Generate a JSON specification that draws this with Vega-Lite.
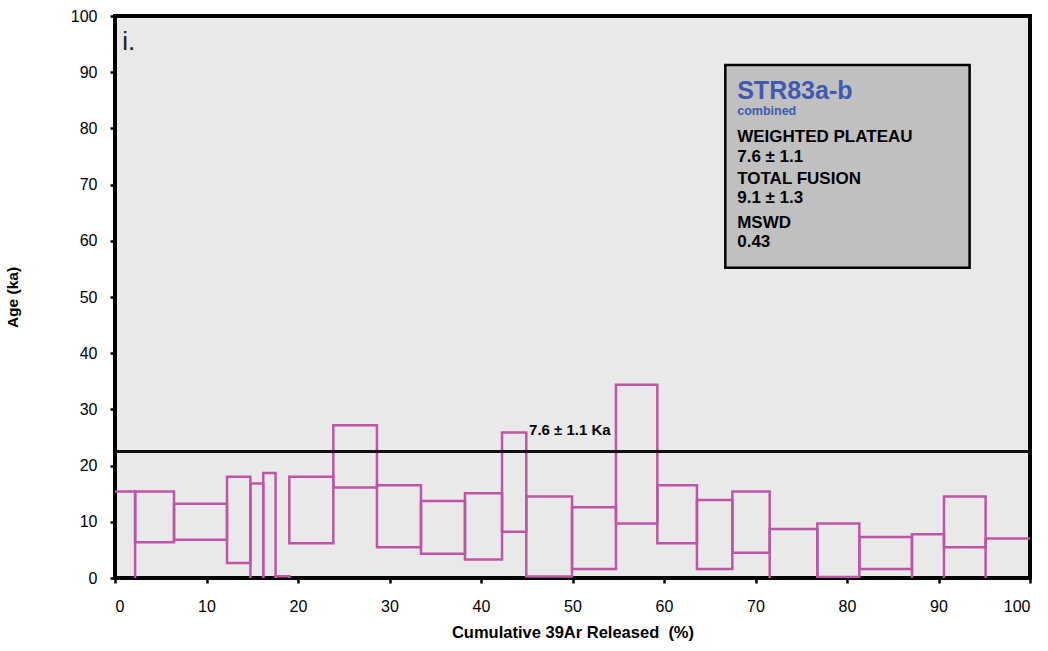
{
  "$schema": "https://vega.github.io/schema/vega-lite/v6.json",
  "width": 915,
  "height": 562,
  "autosize": {"type": "none"},
  "padding": {"left": 115, "top": 16, "right": 18, "bottom": 73},
  "background": "#ffffff",
  "config": {
    "font": "Liberation Sans",
    "view": {"fill": "#e9e9e9", "stroke": "#000000", "strokeWidth": 4},
    "axis": {"domain": false, "grid": false, "tickColor": "#000000", "tickWidth": 2.5, "tickSize": 5, "labelColor": "#000000", "labelFont": "Liberation Sans", "labelFontSize": 16, "titleFont": "Liberation Sans", "titleFontWeight": "bold", "titleColor": "#000000", "titleFontSize": 16}
  },
  "datasets": {
    "steps": [
      {"x1": -0.5, "x2": 2.2, "lo": -2, "hi": 15.4},
      {"x1": 2.2, "x2": 6.45, "lo": 6.35, "hi": 15.4},
      {"x1": 6.45, "x2": 12.24, "lo": 6.8, "hi": 13.2},
      {"x1": 12.24, "x2": 14.8, "lo": 2.67, "hi": 18.0},
      {"x1": 14.8, "x2": 16.2, "lo": -2, "hi": 16.8},
      {"x1": 16.2, "x2": 17.55, "lo": -2, "hi": 18.7},
      {"x1": 17.55, "x2": 19.05, "lo": -2, "hi": 0.3},
      {"x1": 19.05, "x2": 23.86, "lo": 6.17, "hi": 18.0},
      {"x1": 23.86, "x2": 28.63, "lo": 16.1, "hi": 27.2},
      {"x1": 28.63, "x2": 33.44, "lo": 5.45, "hi": 16.5},
      {"x1": 33.44, "x2": 38.25, "lo": 4.3, "hi": 13.7},
      {"x1": 38.25, "x2": 42.3, "lo": 3.3, "hi": 15.1},
      {"x1": 42.3, "x2": 44.95, "lo": 8.25, "hi": 25.9},
      {"x1": 44.95, "x2": 49.95, "lo": 0.25, "hi": 14.5},
      {"x1": 49.95, "x2": 54.75, "lo": 1.6, "hi": 12.6},
      {"x1": 54.75, "x2": 59.27, "lo": 9.7, "hi": 34.4},
      {"x1": 59.27, "x2": 63.6, "lo": 6.17, "hi": 16.5},
      {"x1": 63.6, "x2": 67.47, "lo": 1.6, "hi": 13.9},
      {"x1": 67.47, "x2": 71.55, "lo": 4.5, "hi": 15.4},
      {"x1": 71.55, "x2": 76.76, "lo": -2, "hi": 8.7},
      {"x1": 76.76, "x2": 81.35, "lo": 0.2, "hi": 9.7},
      {"x1": 81.35, "x2": 87.1, "lo": 1.6, "hi": 7.3},
      {"x1": 87.1, "x2": 90.6, "lo": -2, "hi": 7.8},
      {"x1": 90.6, "x2": 95.15, "lo": 5.45, "hi": 14.5},
      {"x1": 95.15, "x2": 100.5, "lo": -2, "hi": 7.05}
    ],
    "plateau": [{"x1": 0, "x2": 100, "age": 22.5}],
    "plabel": [{"x": 45.25, "y": 25.4, "t": "7.6 ± 1.1 Ka"}],
    "panel": [{"x": 0.8, "y": 94.0, "t": "i."}],
    "inset": [{"x1": 66.7, "x2": 93.4, "y1": 55.2, "y2": 91.3}],
    "title": [{"x": 68.0, "y": 85.3, "t": "STR83a-b"}],
    "sub": [{"x": 68.0, "y": 82.3, "t": "combined"}],
    "info": [
      {"x": 68.0, "y": 77.6, "t": "WEIGHTED PLATEAU"},
      {"x": 68.0, "y": 74.0, "t": "7.6 ± 1.1"},
      {"x": 68.0, "y": 70.1, "t": "TOTAL FUSION"},
      {"x": 68.0, "y": 66.7, "t": "9.1 ± 1.3"},
      {"x": 68.0, "y": 62.3, "t": "MSWD"},
      {"x": 68.0, "y": 58.9, "t": "0.43"}
    ]
  },
  "layer": [
    {
      "data": {"name": "steps"},
      "mark": {"type": "rect", "fill": null, "fillOpacity": 0, "stroke": "#c055a8", "strokeWidth": 2.5, "clip": true},
      "encoding": {
        "x": {"field": "x1", "type": "quantitative", "scale": {"domain": [0, 100], "nice": false}, "axis": {"values": [0,10,20,30,40,50,60,70,80,90,100], "title": "Cumulative 39Ar Released\u00a0 (%)", "labelPadding": 15, "titlePadding": 10, "titleFontSize": 16.5}},
        "x2": {"field": "x2"},
        "y": {"field": "lo", "type": "quantitative", "scale": {"domain": [0, 100], "nice": false}, "axis": {"values": [0,10,20,30,40,50,60,70,80,90,100], "title": "Age (ka)", "labelPadding": 13, "titlePadding": 50, "titleFontSize": 15.5}},
        "y2": {"field": "hi"}
      }
    },
    {
      "data": {"name": "plateau"},
      "mark": {"type": "rule", "color": "#111111", "strokeWidth": 3},
      "encoding": {
        "x": {"field": "x1", "type": "quantitative"},
        "x2": {"field": "x2"},
        "y": {"field": "age", "type": "quantitative"}
      }
    },
    {
      "data": {"name": "plabel"},
      "mark": {"type": "text", "align": "left", "baseline": "alphabetic", "fontSize": 15, "fontWeight": "bold", "color": "#000000"},
      "encoding": {
        "x": {"field": "x", "type": "quantitative"},
        "y": {"field": "y", "type": "quantitative"},
        "text": {"field": "t"}
      }
    },
    {
      "data": {"name": "panel"},
      "mark": {"type": "text", "align": "left", "baseline": "alphabetic", "fontSize": 26, "color": "#222222"},
      "encoding": {
        "x": {"field": "x", "type": "quantitative"},
        "y": {"field": "y", "type": "quantitative"},
        "text": {"field": "t"}
      }
    },
    {
      "data": {"name": "inset"},
      "mark": {"type": "rect", "fill": "#c0c0c0", "stroke": "#000000", "strokeWidth": 2.5},
      "encoding": {
        "x": {"field": "x1", "type": "quantitative"},
        "x2": {"field": "x2"},
        "y": {"field": "y1", "type": "quantitative"},
        "y2": {"field": "y2"}
      }
    },
    {
      "data": {"name": "title"},
      "mark": {"type": "text", "align": "left", "baseline": "alphabetic", "fontSize": 25, "fontWeight": "bold", "color": "#3f5ab0"},
      "encoding": {
        "x": {"field": "x", "type": "quantitative"},
        "y": {"field": "y", "type": "quantitative"},
        "text": {"field": "t"}
      }
    },
    {
      "data": {"name": "sub"},
      "mark": {"type": "text", "align": "left", "baseline": "alphabetic", "fontSize": 12.5, "fontWeight": "bold", "color": "#3f5ab0"},
      "encoding": {
        "x": {"field": "x", "type": "quantitative"},
        "y": {"field": "y", "type": "quantitative"},
        "text": {"field": "t"}
      }
    },
    {
      "data": {"name": "info"},
      "mark": {"type": "text", "align": "left", "baseline": "alphabetic", "fontSize": 17, "fontWeight": "bold", "color": "#000000"},
      "encoding": {
        "x": {"field": "x", "type": "quantitative"},
        "y": {"field": "y", "type": "quantitative"},
        "text": {"field": "t"}
      }
    }
  ]
}
